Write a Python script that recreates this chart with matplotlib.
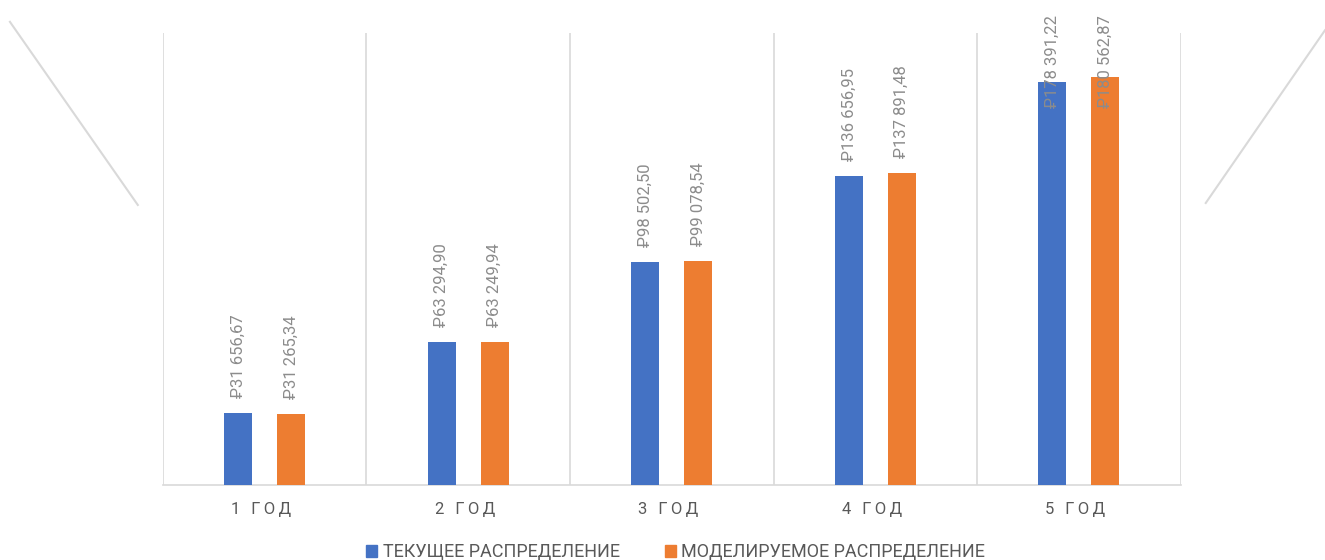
import numpy as np
import matplotlib.pyplot as plt
from matplotlib.lines import Line2D

# data
years = ["1 ГОД", "2 ГОД", "3 ГОД", "4 ГОД", "5 ГОД"]
current = [31656.67, 63294.90, 98502.50, 136656.95, 178391.22]
modeled = [31265.34, 63249.94, 99078.54, 137891.48, 180562.87]
series_names = ["ТЕКУЩЕЕ РАСПРЕДЕЛЕНИЕ", "МОДЕЛИРУЕМОЕ РАСПРЕДЕЛЕНИЕ"]

blue = "#4472C4"
orange = "#ED7D31"
grid_c = "#D9D9D9"
txt_c = "#595959"
lbl_c = "#8C8C8C"

plt.rcParams['font.family'] = ['Roboto', 'DejaVu Sans']


def rub(v):
    s = f"{v:,.2f}".replace(",", " ").replace(".", ",")
    return "₽" + s


def spaced(s):
    # imitate Excel character spacing on the axis labels
    return "\u2009".join(s) + "\u2009\u2009"


fig = plt.figure(figsize=(13.25, 5.6), dpi=100)
ax = fig.add_axes([0.123, 0.134, 0.768, 0.807])

x = np.arange(len(years))
w = 0.138
off = 0.13
b1 = ax.bar(x - off, current, w, color=blue, zorder=3)
b2 = ax.bar(x + off, modeled, w, color=orange, zorder=3)

ax.set_xlim(-0.5, len(years) - 0.5)
ax.set_ylim(0, 200000)

for xb in np.arange(-0.5, len(years), 1.0):
    ax.axvline(xb, color=grid_c, lw=1.2, zorder=1)

for s in ["top", "right", "left"]:
    ax.spines[s].set_visible(False)
ax.spines["bottom"].set_color(grid_c)
ax.spines["bottom"].set_linewidth(1.2)
ax.set_yticks([])
ax.set_xticks(x)
ax.set_xticklabels([spaced(y) for y in years], color=txt_c, fontsize=12)
ax.tick_params(axis="x", length=0, pad=12)

# value labels
for bars, vals in ((b1, current), (b2, modeled)):
    for rect, v in zip(bars, vals):
        cx = rect.get_x() + rect.get_width() / 2
        if v > 170000:
            # no room above: Excel pushes the label down to the chart edge
            ax.annotate(rub(v), (cx, 0.973), xycoords=("data", "figure fraction"),
                        rotation=90, ha="center", va="top", color=lbl_c, fontsize=12,
                        zorder=4)
        else:
            ax.annotate(rub(v), (cx, v), xytext=(0, 11), textcoords="offset points",
                        rotation=90, ha="center", va="bottom", color=lbl_c, fontsize=12,
                        zorder=4)

# decorative diagonal lines at the edges
fig.add_artist(Line2D([0.0075, 0.104], [0.961, 0.634], transform=fig.transFigure,
                      color=grid_c, lw=1.5))
fig.add_artist(Line2D([1.0, 0.910], [0.946, 0.6375], transform=fig.transFigure,
                      color=grid_c, lw=1.5))

handles = [plt.Rectangle((0, 0), 1, 1, color=blue), plt.Rectangle((0, 0), 1, 1, color=orange)]
leg = fig.legend(handles, series_names, loc="center", bbox_to_anchor=(0.51, 0.014),
                 ncol=2, frameon=False, fontsize=13, handlelength=0.6, handleheight=0.6,
                 handletextpad=0.3, columnspacing=2.5, labelcolor=txt_c)

fig.savefig("out.png", dpi=100)
